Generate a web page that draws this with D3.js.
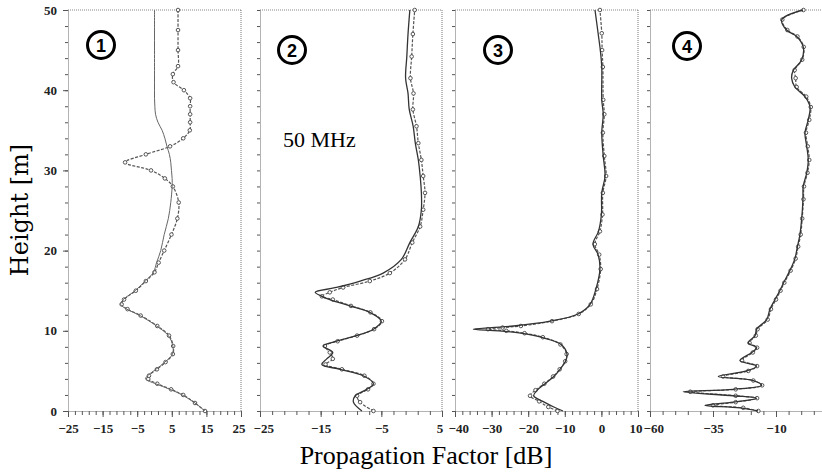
<!DOCTYPE html>
<html>
<head>
<meta charset="utf-8">
<script src="https://cdn.jsdelivr.net/npm/d3@7"></script>
<style>
  body { margin: 0; background: #fff; }
  svg { display: block; }
  .tick text { font-family: 'Liberation Serif', serif; font-size: 13px; font-weight: bold; fill: #222; }
  .tick line { stroke: #555; }
  .domain { stroke: #666; stroke-dasharray: 1,1; }
</style>
</head>
<body>
<svg width="822" height="473"></svg>
<script>
// heights [m] and propagation factor [dB]
var heights1 = [0,1,2,2.7,3.4,4,4.4,5.2,6.1,7.1,8.1,9.4,10.6,11.9,12.7,13.3,13.9,15,16.2,17.3,18.5,20,22,24,26,28,29,30,31,32,33,34,35,36,37,38,39,40,41,42,43,45,47.5,50];
var model1 = [14.6,11.7,8.0,4.5,0.3,-2.6,-2.0,0.4,3.0,5.2,5.3,4.0,0.6,-4.2,-8.0,-9.8,-9.0,-5.6,-2.7,-0.3,0.6,1.8,2.8,4.0,4.7,5.1,5.1,4.9,4.7,4.3,3.6,3.0,2.2,1.0,0.3,0.1,0,0,0,0,0,0,0,0];
var measured1 = [14.6,11.7,8.3,4.8,0.8,-1.8,-1.6,0.7,3.2,5.3,5.4,4.2,0.8,-4.0,-7.8,-9.5,-8.8,-5.4,-2.5,0.0,1.2,2.8,4.9,6.6,7.0,5.3,3.0,-1.0,-8.5,-2.5,4.5,8.3,10.2,10.3,10.3,10.3,10.3,8.5,5.5,5.3,6.8,6.8,6.8,6.8];

var heights2 = [0,1.1,1.9,2.7,3.4,4.4,5.2,5.8,6.5,7.3,8.1,8.7,9.4,10.2,11.2,12.3,13.1,13.9,14.3,14.8,15.4,16.2,17.2,18.9,21,23,25.1,27.2,29.3,31.3,33.4,35.5,37.6,39.6,41.5,44.2,47,50];
var model2 = [-8.2,-9.6,-9.3,-7.4,-6.3,-8.0,-11.8,-14.8,-14.0,-13.0,-14.6,-12.4,-9.1,-6.3,-5.0,-6.9,-10.2,-13.5,-14.8,-15.9,-12.4,-8.5,-4.7,-1.7,-0.3,1.1,1.6,1.6,1.4,1.1,0.6,0.25,-0.4,-0.6,-1.0,-0.8,-0.6,-0.3];
var measured2 = [-6.3,-8.5,-9.0,-7.2,-6.3,-7.8,-11.5,-14.2,-13.0,-13.5,-14.3,-12.2,-9.0,-6.2,-4.9,-6.8,-10.0,-13.0,-14.8,-13.5,-11.3,-6.9,-3.6,-1.1,0.1,1.4,1.9,2.2,1.9,1.6,1.1,0.8,0.2,0.3,-0.2,0.0,0.2,0.5];

var heights3 = [0,0.5,1.2,1.9,2.6,3.4,4.3,5.2,6.2,7.1,8.3,9.2,9.7,10.0,10.2,10.4,10.6,11.2,12.1,13.3,15.2,17.7,19.5,20.8,22.4,24.5,27.2,29.3,31.8,34.7,37,38.8,42.9,45,47.1,50];
var model3 = [-10.5,-13,-16,-18.5,-17.5,-15.4,-13,-11.3,-9.8,-9.4,-11,-16.5,-22,-28,-35,-30,-24,-14,-6.4,-3.1,-1.5,-0.4,-0.9,-2.3,-0.8,0,0.1,1.0,0.5,0.1,0.5,0.1,0.1,-0.3,-0.9,-1.75];
var measured3 = [-12,-14.5,-17,-19.5,-18,-15.6,-13.2,-11.4,-9.9,-9.5,-11.2,-16,-21,-26,-31,-27,-22,-13.5,-6.2,-2.9,-1.2,-0.2,-0.6,-1.8,-0.4,0.3,0.4,1.3,0.8,0.4,0.8,0.5,0.4,0.2,0.1,-0.4];

var heights4 = [0,0.4,0.7,1.1,1.6,1.9,2.4,2.7,3.2,3.8,4.3,5.0,5.6,6.3,7.3,7.9,8.5,9.4,10.2,11.4,12.7,13.9,15,16,17.5,19,20.5,22,24,26.4,28,29.7,31.3,33,34.7,36.3,37.9,39.2,40.4,41.5,42.5,43.8,45.4,46.7,47.5,48.8,50];
var model4 = [-17.1,-24.3,-38.2,-27,-17.7,-27,-46.8,-27,-15.7,-19,-32.9,-21.6,-17.7,-24.3,-19.6,-17.7,-21.0,-18.3,-17.7,-13.7,-12.4,-10.4,-8.5,-7,-4.5,-2.5,-1.5,-0.5,0.2,0.7,0.8,2.2,2.8,2.2,1.5,2.8,3.5,1.5,-2.5,-3.8,-3.1,0.2,0.8,-1.8,-5.8,-7.7,0.7];
var measured4 = [-17,-23,-35,-26,-17.5,-26,-44,-26,-15.5,-19,-31,-21,-17.5,-23.5,-19.2,-17.5,-20.5,-18,-17.3,-13.3,-12,-10,-8.2,-6.7,-4.2,-2.2,-1.2,-0.2,0.4,0.9,1.1,2.5,3.2,2.6,1.9,3.2,3.8,2.0,-1.8,-2.2,-2.6,0.4,1.0,-1.5,-5.5,-7.5,0.9];

var domains = [[-25, 25], [-25, 5], [-40, 10], [-60, 15]];
var majorTicks = [[-25,-15,-5,5,15,25], [-25,-15,-5,5], [-40,-30,-20,-10,0,10], [-60,-35,-10]];
var panelLabels = ["1", "2", "3", "4"];
var heightTicks = [0, 10, 20, 30, 40, 50];

var panels = [
  { h: heights1, model: model1, meas: measured1 },
  { h: heights2, model: model2, meas: measured2 },
  { h: heights3, model: model3, meas: measured3 },
  { h: heights4, model: model4, meas: measured4 }
];

var svg = d3.select("svg");
var ranges = [[68, 241], [260, 442], [455, 638], [650, 839]];
var badge = [[101, 45], [292, 50], [498, 50], [687, 46]];

var y = d3.scaleLinear().domain([0, 50]).range([411, 10]);

panels.forEach(function (p, i) {
  var x = d3.scaleLinear().domain(domains[i]).range(ranges[i]);
  var g = svg.append("g");

  // frame: dotted top and right border
  g.append("line").attr("x1", ranges[i][0]).attr("x2", ranges[i][1])
    .attr("y1", y(50)).attr("y2", y(50))
    .attr("stroke", "#888").attr("stroke-dasharray", "1,1");
  g.append("line").attr("x1", ranges[i][1]).attr("x2", ranges[i][1])
    .attr("y1", y(50)).attr("y2", y(0))
    .attr("stroke", "#777").attr("stroke-dasharray", "1,1");

  // minor x ticks
  var step = i == 3 ? 5 : 2;
  g.append("g")
    .attr("transform", "translate(0," + y(0) + ")")
    .call(d3.axisBottom(x).tickValues(d3.range(domains[i][0], domains[i][1] + 0.01, step)).tickSize(4).tickFormat(""))
    .call(function (a) { a.select(".domain").remove(); });
  // major x ticks + labels
  g.append("g")
    .attr("transform", "translate(0," + y(0) + ")")
    .call(d3.axisBottom(x).tickValues(majorTicks[i]).tickSize(6).tickPadding(7).tickSizeOuter(0)
      .tickFormat(function (d) { return d < 0 ? "\u2212" + Math.abs(d) : d; }))
    .call(function (a) {
      // keep the touching labels between panels apart
      a.selectAll(".tick text").attr("dx", function (d) {
        if (d == domains[i][1] && i < 3) return "-0.2em";
        if (d == domains[i][0] && i > 0) return "0.25em";
        return 0;
      });
    });

  // y axis
  g.append("g")
    .attr("transform", "translate(" + ranges[i][0] + ",0)")
    .call(d3.axisLeft(y).tickValues(d3.range(0, 51, 2)).tickSize(3).tickFormat("").tickSizeOuter(0));
  if (i == 0) {
    g.append("g")
      .attr("transform", "translate(" + ranges[i][0] + ",0)")
      .call(d3.axisLeft(y).tickValues(heightTicks).tickSize(5).tickPadding(6).tickSizeOuter(0))
      .call(function (a) { a.select(".domain").remove(); });
  }

  var line = d3.line()
    .x(function (d, k) { return x(d); })
    .y(function (d, k) { return y(p.h[k]); })
    .curve(d3.curveCatmullRom);

  // measured, dashed with circles
  g.append("path").datum(p.meas)
    .attr("d", line).attr("fill", "none")
    .attr("stroke", "#555").attr("stroke-width", 1.2)
    .attr("stroke-dasharray", "3,1.5");
  g.selectAll(".dot").data(p.meas).enter().append("circle")
    .attr("cx", function (d) { return x(d); })
    .attr("cy", function (d, k) { return y(p.h[k]); })
    .attr("r", 1.8).attr("fill", "#fff")
    .attr("stroke", "#444").attr("stroke-width", 0.9);

  // model, solid
  g.append("path").datum(p.model)
    .attr("d", line).attr("fill", "none")
    .attr("stroke", i == 0 ? "#666" : "#333").attr("stroke-width", i == 0 ? 1 : 1.3);

  // circled panel number
  g.append("circle").attr("cx", badge[i][0]).attr("cy", badge[i][1]).attr("r", 13.5)
    .attr("fill", "#fff").attr("stroke", "#000").attr("stroke-width", 3);
  g.append("text").attr("x", badge[i][0]).attr("y", badge[i][1] + 6.5)
    .attr("text-anchor", "middle")
    .style("font-family", "'Liberation Sans', Arial, sans-serif")
    .style("font-weight", "bold").style("font-size", "18px")
    .text(panelLabels[i]);
});

svg.append("text")
  .attr("x", 283).attr("y", 147)
  .style("font-family", "'Liberation Serif', serif").style("font-size", "22px")
  .text("50 MHz");

// axis titles
svg.append("text")
  .attr("transform", "translate(28,210) rotate(-90)")
  .attr("text-anchor", "middle")
  .style("font-family", "'DejaVu Serif', serif").style("font-size", "24px")
  .text("Height [m]");

svg.append("text")
  .attr("x", 426).attr("y", 464)
  .attr("text-anchor", "middle")
  .style("font-family", "'Liberation Serif', serif").style("font-size", "26px")
  .text("Propagation Factor [dB]");
</script>
</body>
</html>
